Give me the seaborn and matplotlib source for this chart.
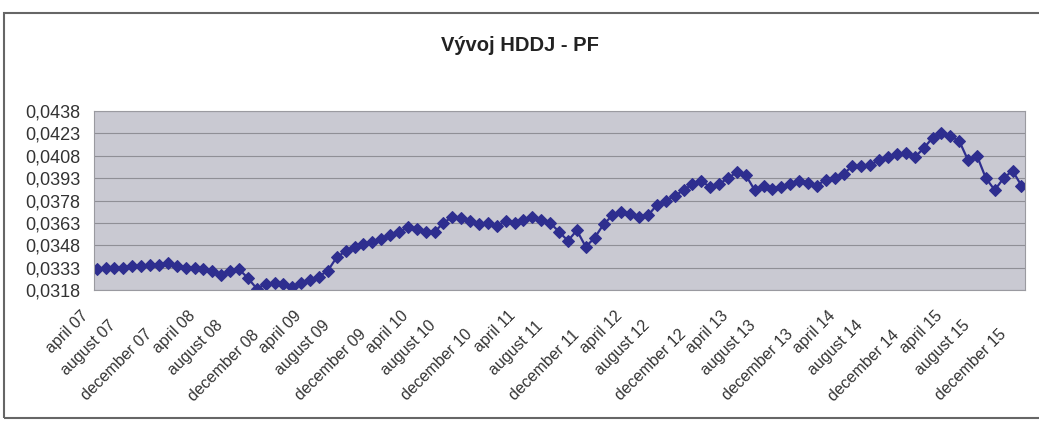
import numpy as np
import pandas as pd
import seaborn as sns
from matplotlib import pyplot as plt
from matplotlib.patches import Rectangle

# monthly values, april 07 .. december 15
hddj = [0.0332, 0.0333, 0.0333, 0.0333, 0.0334, 0.0334, 0.0335, 0.0335, 0.0336, 0.0334,
        0.0333, 0.0333, 0.0332, 0.0331, 0.0328, 0.0331, 0.0332, 0.0326, 0.0319, 0.0322,
        0.0323, 0.0322, 0.0320, 0.0323, 0.0325, 0.0327, 0.0331, 0.0340, 0.0344, 0.0347,
        0.0349, 0.0350, 0.0352, 0.0355, 0.0357, 0.0360, 0.0359, 0.0357, 0.0357, 0.0363,
        0.0367, 0.0366, 0.0364, 0.0362, 0.0363, 0.0361, 0.0364, 0.0363, 0.0365, 0.0367,
        0.0365, 0.0363, 0.0357, 0.0351, 0.0358, 0.0347, 0.0353, 0.0362, 0.0368, 0.0370,
        0.0369, 0.0367, 0.0368, 0.0375, 0.0378, 0.0381, 0.0385, 0.0389, 0.0391, 0.0387,
        0.0389, 0.0393, 0.0397, 0.0395, 0.0385, 0.0388, 0.0386, 0.0387, 0.0389, 0.0391,
        0.0390, 0.0388, 0.0392, 0.0393, 0.0396, 0.0401, 0.0401, 0.0402, 0.0405, 0.0407,
        0.0409, 0.0410, 0.0407, 0.0413, 0.0420, 0.0423, 0.0421, 0.0418, 0.0405, 0.0408,
        0.0393, 0.0385, 0.0393, 0.0398, 0.0388]

label_months = ["april", "august", "december"]
label_years = ["07", "08", "09", "10", "11", "12", "13", "14", "15"]
y_ticks = [0.0318, 0.0333, 0.0348, 0.0363, 0.0378, 0.0393, 0.0408, 0.0423, 0.0438]

tick_labels = [m + " " + y for y in label_years for m in label_months]

df = pd.DataFrame({"idx": np.arange(len(hddj)), "hddj": hddj})

sns.set_style("white")
plt.rcParams['font.family'] = ['Liberation Sans', 'DejaVu Sans']

fig = plt.figure(figsize=(10.39, 4.25), dpi=100)
fig.patches.append(Rectangle((0.004, 0.017), 1.0, 0.952, transform=fig.transFigure,
                             fill=False, edgecolor="#666666", linewidth=1.5))
ax = fig.add_axes([0.0905, 0.3176, 0.896, 0.4212])
ax.set_facecolor("#c9c9d2")

sns.lineplot(data=df, x="idx", y="hddj", ax=ax, color="#2e2e8f", marker="D",
             markersize=6.5, markeredgecolor="#2e2e8f", linewidth=1.6)

ax.set_ylim(0.0318, 0.0438)
ax.set_yticks(y_ticks)
ax.set_yticklabels([f"{v:.4f}".replace(".", ",") for v in y_ticks], fontsize=13, color="#333333")
ax.yaxis.grid(True, color="#8f8f96", linewidth=0.8)
ax.set_axisbelow(True)

ax.set_xlim(-0.3, len(hddj) - 0.6)
ax.set_xticks(np.arange(len(hddj)))
ax.set_xticklabels([])
# excel staggers the rotated labels: april high, august lower, december lowest
offsets = {"april": (-16, -18), "august": (-24, -28), "december": (-23, -37)}
for k, t in enumerate(tick_labels):
    dx, dy = offsets[t.split()[0]]
    ax.annotate(t, xy=(k * 4, 0), xycoords=ax.get_xaxis_transform(),
                xytext=(dx, dy), textcoords="offset pixels", rotation=45,
                ha="right", va="top", rotation_mode="anchor",
                fontsize=11.5, color="#333333", annotation_clip=False)
ax.tick_params(axis="x", length=3, color="#888888")
ax.tick_params(axis="y", length=0, pad=10)
ax.set_xlabel("")
ax.set_ylabel("")
for s in ax.spines.values():
    s.set_color("#9a9aa0")

fig.text(0.5, 0.893, "Vývoj HDDJ - PF", ha="center", va="center",
         fontsize=14.5, fontweight="bold", color="#222222")

plt.savefig("out.png", dpi=100)
